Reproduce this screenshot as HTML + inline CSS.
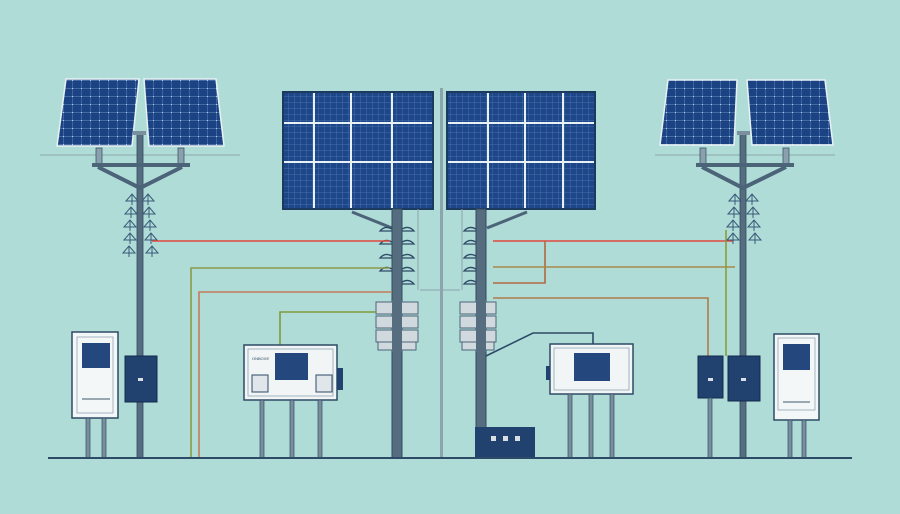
<!DOCTYPE html>
<html><head><meta charset="utf-8"><style>html,body{margin:0;padding:0;background:#b0dcd8}svg{display:block}</style></head>
<body>
<svg width="900" height="514" viewBox="0 0 900 514" xmlns="http://www.w3.org/2000/svg">
<defs>
<pattern id="fine" width="6" height="6" patternUnits="userSpaceOnUse">
<rect width="6" height="6" fill="#1d4788"/>
<path d="M0 0H6M0 0V6" stroke="#5078b4" stroke-width="0.8"/>
</pattern>
<pattern id="fine2" width="9" height="8" patternUnits="userSpaceOnUse">
<rect width="9" height="8" fill="#1b4282"/>
<path d="M0 0H9M0 0V8" stroke="#6d93c7" stroke-width="0.9"/>
<circle cx="0" cy="0" r="1" fill="#e8f0fa"/>
</pattern>
<g id="ins"><path d="M-6 4 L0 -3 L6 4 Z" fill="none" stroke="#3a5a78" stroke-width="1"/><line x1="0" y1="-3" x2="0" y2="8" stroke="#3a5a78"/></g>
</defs>
<rect width="900" height="514" fill="#b0dcd8"/>

<!-- LEFT POLE -->
<line x1="40" y1="155" x2="240" y2="155" stroke="#8aa8aa" stroke-width="1"/>
<polygon points="66,79 139,79 132,146 57,146" fill="url(#fine2)" stroke="#e8f2f4" stroke-width="1.5"/>
<polygon points="144,79 216,79 224,146 149,146" fill="url(#fine2)" stroke="#e8f2f4" stroke-width="1.5"/>
<rect x="137" y="133" width="6" height="325" fill="#566d80" stroke="#2f4a60" stroke-width="0.8"/>
<rect x="133" y="131" width="13" height="4" fill="#7a909e"/>
<rect x="96" y="148" width="6" height="17" fill="#8aa0ad" stroke="#3d566a" stroke-width="0.8"/>
<rect x="178" y="148" width="6" height="17" fill="#8aa0ad" stroke="#3d566a" stroke-width="0.8"/>
<rect x="92" y="163" width="98" height="4" fill="#4c6478"/>
<path d="M98 167 L140 188 L182 167" fill="none" stroke="#4c6478" stroke-width="4"/>
<g>
<use href="#ins" x="132" y="197"/><use href="#ins" x="148" y="197"/>
<use href="#ins" x="131" y="210"/><use href="#ins" x="149" y="210"/>
<use href="#ins" x="130" y="223"/><use href="#ins" x="150" y="223"/>
<use href="#ins" x="130" y="236"/><use href="#ins" x="151" y="236"/>
<use href="#ins" x="129" y="249"/><use href="#ins" x="152" y="249"/>
</g>
<rect x="72" y="332" width="46" height="86" fill="#f4f7f8" stroke="#2d4a66" stroke-width="1.5"/>
<rect x="77" y="337" width="36" height="76" fill="none" stroke="#8fa4b3" stroke-width="0.8"/>
<rect x="82" y="343" width="28" height="25" fill="#24477e"/>
<line x1="82" y1="399" x2="110" y2="399" stroke="#7a8e9c" stroke-width="1.5"/>
<rect x="86" y="418" width="4" height="40" fill="#7a8e9c" stroke="#2d4a66" stroke-width="0.7"/>
<rect x="102" y="418" width="4" height="40" fill="#7a8e9c" stroke="#2d4a66" stroke-width="0.7"/>
<rect x="125" y="356" width="32" height="46" fill="#21426f" stroke="#142a4c"/>
<rect x="138" y="378" width="5" height="3" fill="#d8e0e6"/>

<!-- CENTER PANELS -->
<rect x="440" y="88" width="3" height="370" fill="#8ea4ac"/>
<rect x="283" y="92" width="150" height="117" fill="url(#fine)" stroke="#1c3a5e" stroke-width="2"/>
<g stroke="#e8f2f6" stroke-width="2"><line x1="314" y1="93" x2="314" y2="208"/><line x1="351" y1="93" x2="351" y2="208"/><line x1="392" y1="93" x2="392" y2="208"/><line x1="284" y1="123" x2="432" y2="123"/><line x1="284" y1="162" x2="432" y2="162"/></g>
<rect x="447" y="92" width="148" height="117" fill="url(#fine)" stroke="#1c3a5e" stroke-width="2"/>
<g stroke="#e8f2f6" stroke-width="2"><line x1="488" y1="93" x2="488" y2="208"/><line x1="525" y1="93" x2="525" y2="208"/><line x1="563" y1="93" x2="563" y2="208"/><line x1="448" y1="123" x2="594" y2="123"/><line x1="448" y1="162" x2="594" y2="162"/></g>
<line x1="418" y1="209" x2="418" y2="290" stroke="#8ea4ac" stroke-width="1"/>
<line x1="462" y1="209" x2="462" y2="290" stroke="#8ea4ac" stroke-width="1"/>
<line x1="420" y1="290" x2="460" y2="290" stroke="#8ea4ac" stroke-width="1"/>
<path d="M352 212 L392 228" stroke="#4c6478" stroke-width="3"/>
<path d="M527 212 L487 228" stroke="#4c6478" stroke-width="3"/>
<rect x="392" y="209" width="10" height="249" fill="#566d80" stroke="#2f4a60"/>
<rect x="476" y="209" width="10" height="249" fill="#566d80" stroke="#2f4a60"/>
<g fill="none" stroke="#2d4a66" stroke-width="1.3">
<path d="M402 229 q7 -4 12 2 h-12"/><path d="M402 242 q7 -4 12 2 h-12"/><path d="M402 256 q7 -4 12 2 h-12"/><path d="M402 269 q7 -4 12 2 h-12"/><path d="M402 282 q7 -4 12 2 h-12"/>
<path d="M392 229 q-7 -4 -12 2 h12"/><path d="M392 242 q-7 -4 -12 2 h12"/><path d="M392 256 q-7 -4 -12 2 h12"/><path d="M392 269 q-7 -4 -12 2 h12"/>
<path d="M476 229 q-7 -4 -12 2 h12"/><path d="M476 242 q-7 -4 -12 2 h12"/><path d="M476 256 q-7 -4 -12 2 h12"/><path d="M476 269 q-7 -4 -12 2 h12"/><path d="M476 282 q-7 -4 -12 2 h12"/>
</g>
<g fill="#cfd9de" stroke="#4c6478" stroke-width="1">
<rect x="376" y="302" width="42" height="12"/><rect x="376" y="316" width="42" height="12"/><rect x="376" y="330" width="42" height="12"/><rect x="378" y="342" width="38" height="8"/>
<rect x="460" y="302" width="36" height="12"/><rect x="460" y="316" width="36" height="12"/><rect x="460" y="330" width="36" height="12"/><rect x="462" y="342" width="32" height="8"/>
</g>
<rect x="392" y="300" width="10" height="52" fill="#566d80"/>
<rect x="476" y="300" width="10" height="52" fill="#566d80"/>

<!-- WIRES -->
<g fill="none" stroke-width="1.6">
<path d="M152 241 H390" stroke="#e0483e"/>
<path d="M191 458 V268 H390" stroke="#8a9a4a"/>
<path d="M199 458 V292 H392" stroke="#c47a5a"/>
<path d="M280 345 V312 H376" stroke="#7f9a3e"/>
<path d="M493 241 H733" stroke="#e0483e"/>
<path d="M545 241 V283 H493" stroke="#b06a40"/>
<path d="M493 267 H735" stroke="#a8884a"/>
<path d="M493 298 H708 V356" stroke="#b07a4a"/>
<path d="M726 230 V356" stroke="#8a9a3a"/>
<path d="M486 356 L533 333 H593 V344" stroke="#2d4a66"/>
</g>

<!-- LEFT INVERTER -->
<rect x="244" y="345" width="93" height="55" fill="#f2f5f6" stroke="#2d4a66" stroke-width="1.5"/>
<rect x="248" y="349" width="85" height="47" fill="none" stroke="#8fa4b3" stroke-width="0.8"/>
<text x="252" y="360" font-family="Liberation Sans, sans-serif" font-size="4" fill="#2d4a66">ONBOXE</text>
<rect x="275" y="353" width="33" height="27" fill="#24477e"/>
<rect x="252" y="375" width="16" height="17" fill="#e0e6ea" stroke="#2d4a66"/>
<rect x="316" y="375" width="16" height="17" fill="#e0e6ea" stroke="#2d4a66"/>
<rect x="337" y="368" width="6" height="22" fill="#21426f"/>
<g fill="#7a8e9c" stroke="#2d4a66" stroke-width="0.7"><rect x="260" y="400" width="4" height="58"/><rect x="290" y="400" width="4" height="58"/><rect x="318" y="400" width="4" height="58"/></g>

<!-- RIGHT INVERTER -->
<rect x="550" y="344" width="83" height="50" fill="#f2f5f6" stroke="#2d4a66" stroke-width="1.5"/>
<rect x="554" y="348" width="75" height="42" fill="none" stroke="#8fa4b3" stroke-width="0.8"/>
<rect x="574" y="353" width="36" height="28" fill="#24477e"/>
<rect x="546" y="366" width="4" height="14" fill="#21426f"/>
<g fill="#7a8e9c" stroke="#2d4a66" stroke-width="0.7"><rect x="568" y="394" width="4" height="64"/><rect x="589" y="394" width="4" height="64"/><rect x="610" y="394" width="4" height="64"/></g>
<rect x="475" y="427" width="60" height="30" fill="#21426f"/>
<g fill="#d8e0e6"><rect x="491" y="436" width="5" height="5"/><rect x="503" y="436" width="5" height="5"/><rect x="515" y="436" width="5" height="5"/></g>

<!-- RIGHT POLE -->
<line x1="655" y1="155" x2="835" y2="155" stroke="#8aa8aa" stroke-width="1"/>
<polygon points="668,80 737,80 734,145 660,145" fill="url(#fine2)" stroke="#e8f2f4" stroke-width="1.5"/>
<polygon points="747,80 825,80 833,145 752,145" fill="url(#fine2)" stroke="#e8f2f4" stroke-width="1.5"/>
<rect x="740" y="133" width="6" height="325" fill="#566d80" stroke="#2f4a60" stroke-width="0.8"/>
<rect x="737" y="131" width="13" height="4" fill="#7a909e"/>
<rect x="700" y="148" width="6" height="17" fill="#8aa0ad" stroke="#3d566a" stroke-width="0.8"/>
<rect x="783" y="148" width="6" height="17" fill="#8aa0ad" stroke="#3d566a" stroke-width="0.8"/>
<rect x="696" y="163" width="98" height="4" fill="#4c6478"/>
<path d="M702 167 L743 188 L786 167" fill="none" stroke="#4c6478" stroke-width="4"/>
<g>
<use href="#ins" x="735" y="197"/><use href="#ins" x="752" y="197"/>
<use href="#ins" x="734" y="210"/><use href="#ins" x="753" y="210"/>
<use href="#ins" x="733" y="223"/><use href="#ins" x="754" y="223"/>
<use href="#ins" x="733" y="236"/><use href="#ins" x="755" y="236"/>
</g>
<rect x="698" y="356" width="25" height="42" fill="#21426f" stroke="#142a4c"/>
<rect x="708" y="378" width="5" height="3" fill="#d8e0e6"/>
<rect x="728" y="356" width="32" height="45" fill="#21426f" stroke="#142a4c"/>
<rect x="741" y="378" width="5" height="3" fill="#d8e0e6"/>
<rect x="708" y="398" width="4" height="60" fill="#7a8e9c" stroke="#2d4a66" stroke-width="0.7"/>
<rect x="774" y="334" width="45" height="86" fill="#f4f7f8" stroke="#2d4a66" stroke-width="1.5"/>
<rect x="778" y="338" width="37" height="72" fill="none" stroke="#8fa4b3" stroke-width="0.8"/>
<rect x="783" y="344" width="27" height="26" fill="#24477e"/>
<line x1="783" y1="402" x2="810" y2="402" stroke="#7a8e9c" stroke-width="1.5"/>
<rect x="788" y="420" width="4" height="38" fill="#7a8e9c" stroke="#2d4a66" stroke-width="0.7"/>
<rect x="802" y="420" width="4" height="38" fill="#7a8e9c" stroke="#2d4a66" stroke-width="0.7"/>

<line x1="48" y1="458" x2="852" y2="458" stroke="#2d4a66" stroke-width="2"/>
</svg>
</body></html>
